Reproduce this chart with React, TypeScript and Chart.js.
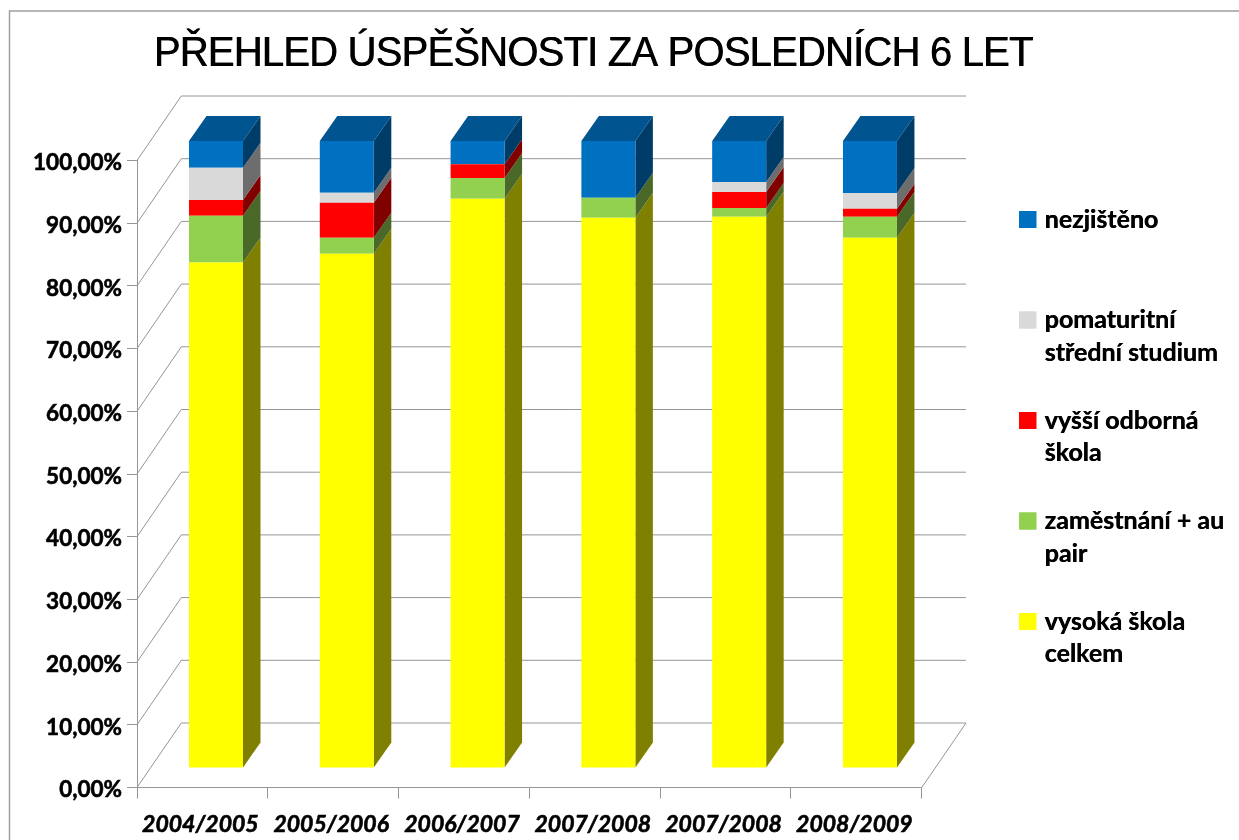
import React, { useEffect, useRef } from "react";
import { Chart, registerables } from "chart.js";

Chart.register(...registerables);

const chartTitle = "PŘEHLED ÚSPĚŠNOSTI ZA POSLEDNÍCH 6 LET";
const categories = ["2004/2005", "2005/2006", "2006/2007", "2007/2008", "2007/2008", "2008/2009"];
const yTickLabels = ["0,00%", "10,00%", "20,00%", "30,00%", "40,00%", "50,00%", "60,00%", "70,00%", "80,00%", "90,00%", "100,00%"];

const vysokaSkola = [80.64, 82.03, 90.8, 87.75, 87.9, 84.57];
const zamestnani = [7.43, 2.54, 3.3, 3.18, 1.43, 3.34];
const vyssiOdborna = [2.54, 5.57, 2.2, 0, 2.54, 1.27];
const pomaturitni = [5.14, 1.59, 0, 0, 1.59, 2.54];
const nezjisteno = [4.25, 8.27, 3.7, 9.07, 6.54, 8.28];

const seriesNames = ["vysoká škola celkem", "zaměstnání + au pair", "vyšší odborná škola", "pomaturitní střední studium", "nezjištěno"];
const legendLines = [
  ["vysoká škola", "celkem"],
  ["zaměstnání + au", "pair"],
  ["vyšší odborná", "škola"],
  ["pomaturitní", "střední studium"],
  ["nezjištěno", ""],
];
const frontColors = ["#FFFF00", "#92D050", "#FF0000", "#D9D9D9", "#0070C0"];
const sideColors = ["#808000", "#4A6828", "#800000", "#6D6D6D", "#003C68"];
const topColor = "#005490";
const lineColor = "#969696";

// 3D projection
const wallDx = 44.3, wallDy = 64.5;
const barDx = 13.6, barDy = 19.5;
const depthDx = 17.5, depthDy = 25;

const solid = (ctx: any, pts: number[][], color: string) => {
  ctx.fillStyle = color;
  ctx.beginPath();
  pts.forEach((p, i) => (i ? ctx.lineTo(p[0], p[1]) : ctx.moveTo(p[0], p[1])));
  ctx.closePath();
  ctx.fill();
};

const scene3d = {
  id: "scene3d",
  afterInit(chart: any) {
    // the reference text is heavier and the title tighter than the installed fonts give
    const { ctx } = chart;
    const block = chart.titleBlock;
    const drawTitle = block.draw;
    block.draw = function (...args: any[]) {
      ctx.save();
      ctx.letterSpacing = "-0.8px";
      ctx.translate(0, 54);
      ctx.scale(1, 1.05);
      ctx.translate(0, -54);
      drawTitle.apply(this, args);
      ctx.translate(0.7, 0);
      drawTitle.apply(this, args);
      ctx.restore();
    };
    const legend = chart.legend;
    const drawLegend = legend.draw;
    legend.draw = function (...args: any[]) {
      drawLegend.apply(this, args);
      ctx.save();
      ctx.translate(0.4, 0);
      drawLegend.apply(this, args);
      ctx.restore();
    };
  },
  beforeDraw(chart: any) {
    const { ctx, width, height } = chart;
    ctx.save();
    ctx.fillStyle = "#fff";
    ctx.fillRect(0, 0, width, height);
    ctx.strokeStyle = "#a0a0a0";
    ctx.lineWidth = 1.5;
    ctx.beginPath();
    ctx.moveTo(9.5, height);
    ctx.lineTo(9.5, 11);
    ctx.lineTo(width, 11);
    ctx.stroke();
    ctx.restore();
  },
  beforeDatasetsDraw(chart: any) {
    const { ctx, chartArea, scales } = chart;
    const { left, right } = chartArea;
    const y = scales.y;
    ctx.save();
    ctx.strokeStyle = lineColor;
    ctx.lineWidth = 1;
    yTickLabels.forEach((_, i) => {
      const py = y.getPixelForValue(i * 10);
      ctx.beginPath();
      ctx.moveTo(left, py);
      ctx.lineTo(left + wallDx, py - wallDy);
      ctx.lineTo(right + wallDx, py - wallDy);
      if (i === 0) ctx.lineTo(right, py);
      ctx.stroke();
    });
    ctx.restore();

    // side and top faces of every bar, taken from the library's bar elements
    chart.data.datasets.forEach((ds: any, d: number) => {
      chart.getDatasetMeta(d).data.forEach((bar: any, j: number) => {
        if (!ds.data[j]) return;
        const r = bar.x + bar.width / 2 + barDx;
        const l = bar.x - bar.width / 2 + barDx;
        const t = bar.y - barDy;
        const b = bar.base - barDy;
        solid(ctx, [[r, b], [r + depthDx, b - depthDy], [r + depthDx, t - depthDy], [r, t]], sideColors[d]);
        if (d === chart.data.datasets.length - 1) {
          solid(ctx, [[l, t], [l + depthDx, t - depthDy], [r + depthDx, t - depthDy], [r, t]], topColor);
        }
      });
    });
    ctx.save();
    ctx.translate(barDx, -barDy);
  },
  afterDatasetsDraw(chart: any) {
    chart.ctx.restore();
  },
};

const seriesValues = [vysokaSkola, zamestnani, vyssiOdborna, pomaturitni, nezjisteno];

export default function App() {
  const ref = useRef<HTMLCanvasElement | null>(null);
  useEffect(() => {
    const chart = new Chart(ref.current as HTMLCanvasElement, {
      type: "bar",
      plugins: [scene3d],
      data: {
        labels: categories,
        datasets: seriesValues.map((values, i) => ({
          label: seriesNames[i],
          data: values,
          backgroundColor: frontColors[i],
          borderWidth: 0,
          clip: false,
        })),
      } as any,
      options: {
        animation: false,
        responsive: false,
        layout: { padding: { left: -48, right: 5, top: 0, bottom: 0 } },
        datasets: { bar: { categoryPercentage: 1, barPercentage: 54 / 130.8 } },
        plugins: {
          tooltip: { enabled: false },
          title: {
            display: true,
            text: chartTitle,
            color: "#000",
            font: { family: "'Liberation Sans'", size: 40, weight: "normal", lineHeight: 1.2 },
            padding: { top: 30, bottom: 82.5 },
          },
          legend: {
            display: true,
            position: "right",
            fullSize: false,
            align: "start",
            maxWidth: 320,
            reverse: true,
            title: { display: true, text: "", font: { size: 1, lineHeight: "1px" }, padding: { top: 0, bottom: 10 } },
            labels: {
              color: "#000",
              font: { family: "Lato", size: 25, weight: "bold", lineHeight: "32.5px" },
              boxWidth: 9,
              boxHeight: 9,
              padding: 35.5,
              generateLabels: (c: any) =>
                c.data.datasets.map((ds: any, i: number) => ({
                  text: legendLines[i],
                  fillStyle: frontColors[i],
                  strokeStyle: frontColors[i],
                  lineWidth: 8,
                  hidden: false,
                  datasetIndex: i,
                  fontColor: "#000",
                })),
            },
          },
        },
        scales: {
          x: {
            stacked: true,
            afterFit: (s: any) => { s.height = 52.5; },
            grid: { drawOnChartArea: false, drawTicks: true, tickLength: 11, color: lineColor },
            border: { display: true, color: lineColor },
            ticks: {
              color: "#000",
              maxRotation: 0,
              minRotation: 0,
              autoSkip: false,
              padding: 12,
              labelOffset: -2,
              textStrokeColor: "#000",
              textStrokeWidth: 0.6,
              font: { family: "Lato", size: 23, weight: "bold", style: "italic" },
            },
          },
          y: {
            stacked: true,
            min: 0,
            max: 100,
            afterFit: (s: any) => { s.width = 185; },
            grid: { drawOnChartArea: false, drawTicks: true, tickLength: 10, color: lineColor },
            border: { display: true, color: lineColor },
            ticks: {
              stepSize: 10,
              color: "#000",
              padding: 5,
              labelOffset: 2.5,
              textStrokeColor: "#000",
              textStrokeWidth: 0.6,
              font: { family: "Lato", size: 22.5, weight: "bold" },
              callback: (_: any, i: number) => yTickLabels[i],
            },
          },
          rightGap: {
            type: "linear",
            position: "right",
            display: true,
            afterFit: (s: any) => { s.width = 65.8; },
            grid: { display: false },
            border: { display: false },
            ticks: { display: false },
          },
        },
      } as any,
    });
    return () => chart.destroy();
  }, []);
  return (
    <div style={{ position: "absolute", left: 0, top: 0, width: 1239, height: 840, overflow: "hidden" }}>
      <canvas ref={ref} width={1239} height={840} style={{ display: "block" }} />
    </div>
  );
}
